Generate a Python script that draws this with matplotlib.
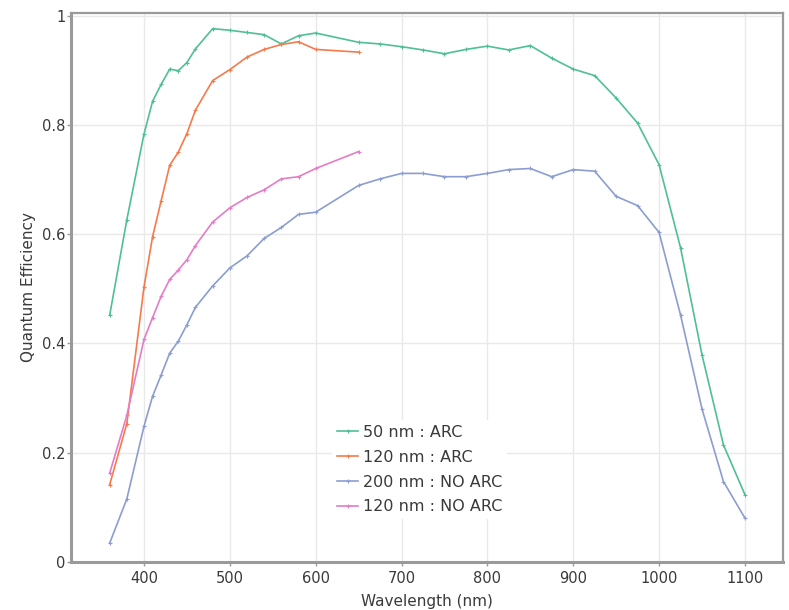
import matplotlib
matplotlib.use("Agg")
import matplotlib.pyplot as plt
from matplotlib.ticker import FuncFormatter

# wavelengths (nm) and quantum efficiency
wl_long = [360, 380, 400, 410, 420, 430, 440, 450, 460, 480, 500, 520, 540, 560,
           580, 600, 650, 675, 700, 725, 750, 775, 800, 825, 850, 875, 900, 925,
           950, 975, 1000, 1025, 1050, 1075, 1100]
wl_short = [360, 380, 400, 410, 420, 430, 440, 450, 460, 480, 500, 520, 540, 560,
            580, 600, 650]

qe_50_arc = [0.451, 0.626, 0.783, 0.843, 0.874, 0.902, 0.899, 0.914, 0.939, 0.976,
             0.973, 0.969, 0.965, 0.948, 0.963, 0.968, 0.951, 0.948, 0.943, 0.937,
             0.930, 0.938, 0.944, 0.937, 0.945, 0.922, 0.902, 0.890, 0.849, 0.803,
             0.727, 0.575, 0.379, 0.214, 0.123]
qe_120_arc = [0.141, 0.253, 0.503, 0.595, 0.661, 0.726, 0.750, 0.784, 0.827, 0.881,
              0.901, 0.924, 0.938, 0.947, 0.952, 0.938, 0.933]
qe_200_noarc = [0.034, 0.115, 0.248, 0.303, 0.342, 0.382, 0.404, 0.434, 0.466, 0.505,
                0.538, 0.560, 0.592, 0.612, 0.636, 0.640, 0.689, 0.701, 0.711, 0.711,
                0.705, 0.705, 0.711, 0.718, 0.720, 0.705, 0.718, 0.715, 0.669, 0.652,
                0.603, 0.452, 0.280, 0.147, 0.080]
qe_120_noarc = [0.162, 0.268, 0.407, 0.447, 0.486, 0.517, 0.534, 0.553, 0.579, 0.622,
                0.648, 0.667, 0.681, 0.701, 0.705, 0.720, 0.751]

labels = ["50 nm : ARC", "120 nm : ARC", "200 nm : NO ARC", "120 nm : NO ARC"]
colors = ["#4fc095", "#f57a4c", "#8b9dd2", "#e57cc6"]

x_ticks = [400, 500, 600, 700, 800, 900, 1000, 1100]
y_ticks = [0, 0.2, 0.4, 0.6, 0.8, 1.0]

fig = plt.figure(figsize=(7.89, 6.10), dpi=100)
ax = fig.add_axes([0.090, 0.079, 0.902, 0.900])

series = [(wl_long, qe_50_arc), (wl_short, qe_120_arc),
          (wl_long, qe_200_noarc), (wl_short, qe_120_noarc)]
for (x, y), lab, c in zip(series, labels, colors):
  ax.plot(x, y, color=c, lw=1.2, marker="+", ms=3, mew=0.8, label=lab)

ax.set_xlim(315, 1144)
ax.set_ylim(0, 1.005)
ax.set_xticks(x_ticks)
ax.set_yticks(y_ticks)
ax.yaxis.set_major_formatter(FuncFormatter(lambda v, p: f"{v:g}"))
ax.grid(True, color="#e9e9e9", lw=1.0)
ax.set_axisbelow(True)

for side in ["top", "right"]:
  ax.spines[side].set_color("#9a9a9a")
  ax.spines[side].set_linewidth(1.6)
for side in ["left", "bottom"]:
  ax.spines[side].set_color("#9a9a9a")
  ax.spines[side].set_linewidth(2.2)

ax.tick_params(axis="both", labelsize=10.5, labelcolor="#3a3a3a",
               color="#9a9a9a", length=3, width=1)
ax.tick_params(axis="y", pad=1)
ax.set_xlabel("Wavelength (nm)", fontsize=11, color="#3a3a3a", labelpad=6)
ax.set_ylabel("Quantum Efficiency", fontsize=11, color="#3a3a3a", labelpad=4)

leg = ax.legend(loc="upper left", bbox_to_anchor=(0.356, 0.273), fontsize=11.5,
                frameon=True, framealpha=1, facecolor="white", edgecolor="none",
                fancybox=False, handlelength=1.3, handletextpad=0.3,
                labelspacing=0.62, borderpad=0.3)
for t in leg.get_texts():
  t.set_color("#3a3a3a")

fig.savefig("out.png", dpi=100)
